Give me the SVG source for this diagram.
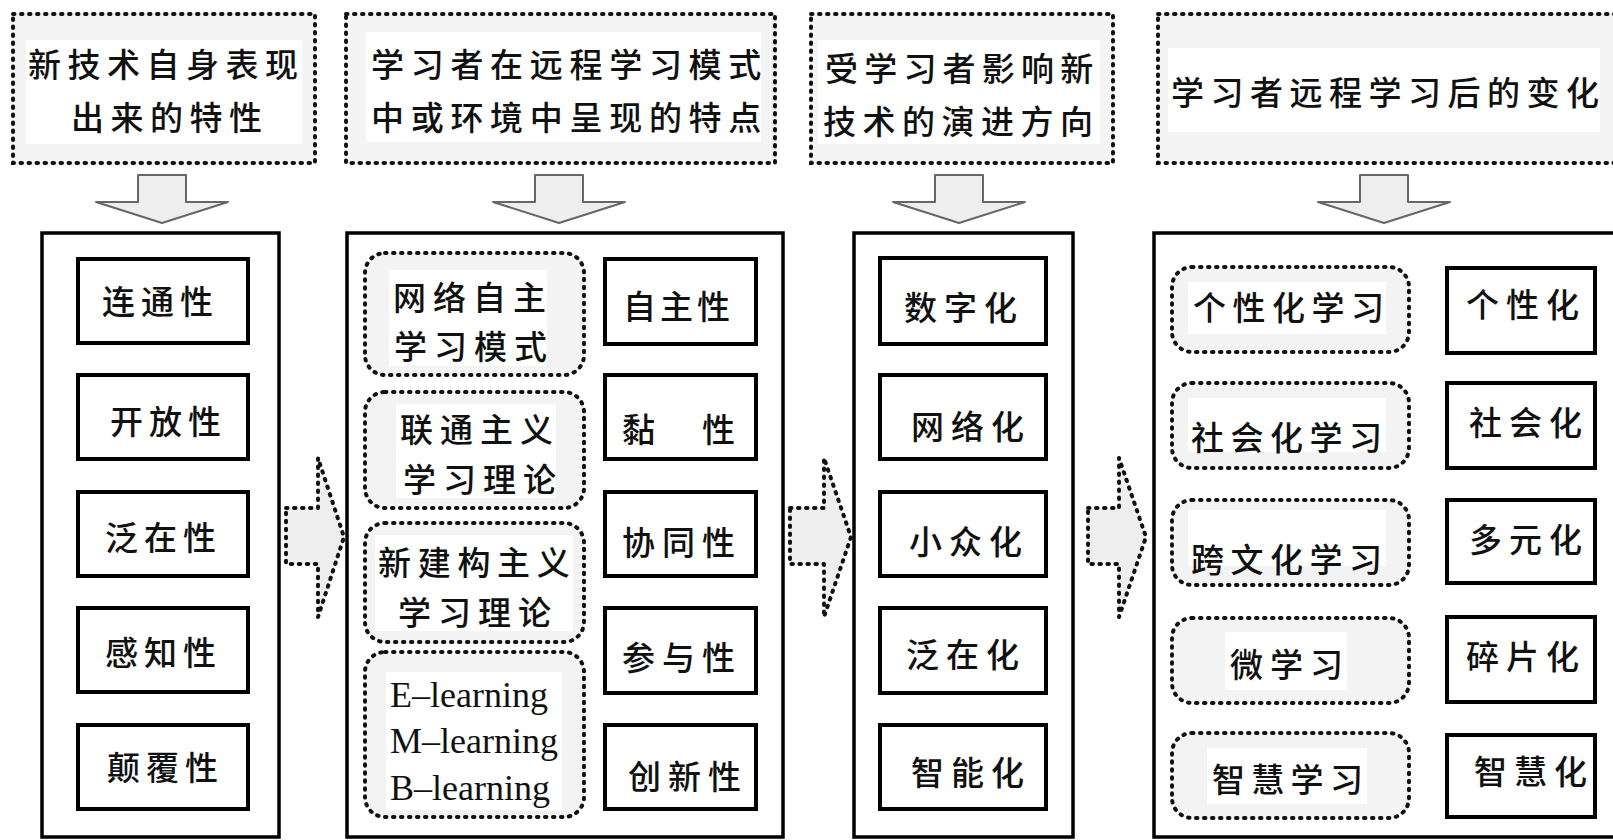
<svg xmlns="http://www.w3.org/2000/svg" width="1613" height="840" viewBox="0 0 1613 840">
<style>
.bg{fill:#fff}
.hdr{fill:#f4f4f4;stroke:#111;stroke-width:4;stroke-dasharray:1.5 6.5;stroke-linecap:round}
.dot{fill:#f3f3f3;stroke:#111;stroke-width:4;stroke-dasharray:1.5 6.5;stroke-linecap:round}
.wb{fill:#fff}
.box{fill:#fff;stroke:#000;stroke-width:4}
.cont{fill:none;stroke:#000;stroke-width:3.5}
.zh{font-family:"Noto Sans CJK SC","Noto Sans CJK TC",sans-serif;font-size:33px;font-weight:500;fill:#111}
.en{font-family:"Liberation Serif",serif;font-size:36px;fill:#111}
.darr{fill:#eeeeee;stroke:#666;stroke-width:2;stroke-linejoin:round}
.harr{fill:#eeeeee;stroke:#111;stroke-width:4;stroke-dasharray:1.5 6.5;stroke-linecap:round;stroke-linejoin:round}
</style>
<rect class="bg" x="0" y="0" width="1613" height="840"/>

<!-- header nodes -->
<g id="header1">
<rect class="hdr" x="13" y="14" width="302" height="149"/>
<rect class="wb" x="26" y="40" width="276" height="104"/>
<text class="zh" x="28" y="77" letter-spacing="6.5">新技术自身表现</text>
<text class="zh" x="71" y="130" letter-spacing="6.5">出来的特性</text>
</g>
<g id="header2">
<rect class="hdr" x="346" y="14" width="429" height="149"/>
<rect class="wb" x="366" y="32" width="395" height="110"/>
<text class="zh" x="371" y="77" letter-spacing="6.7">学习者在远程学习模式</text>
<text class="zh" x="371" y="130" letter-spacing="6.7">中或环境中呈现的特点</text>
</g>
<g id="header3">
<rect class="hdr" x="811" y="14" width="302" height="149"/>
<rect class="wb" x="818" y="40" width="282" height="104"/>
<text class="zh" x="825" y="81" letter-spacing="6.2">受学习者影响新</text>
<text class="zh" x="823" y="134" letter-spacing="6.5">技术的演进方向</text>
</g>
<g id="header4">
<rect class="hdr" x="1158" y="14" width="470" height="149"/>
<rect class="wb" x="1168" y="48" width="432" height="84"/>
<text class="zh" x="1171" y="105" letter-spacing="6.5">学习者远程学习后的变化</text>
</g>

<!-- containers -->
<g id="container1"><rect class="cont" x="42" y="233" width="237" height="604"/></g>
<g id="container2"><rect class="cont" x="347" y="233" width="436" height="604"/></g>
<g id="container3"><rect class="cont" x="854" y="233" width="219" height="604"/></g>
<g id="container4"><rect class="cont" x="1154" y="233" width="480" height="604"/></g>

<!-- column 1 -->
<g id="n-liantong"><rect class="box" x="78" y="259" width="170" height="84"/><text class="zh" x="102" y="314" letter-spacing="6">连通性</text></g>
<g id="n-kaifang"><rect class="box" x="78" y="375" width="170" height="84"/><text class="zh" x="110" y="434" letter-spacing="6">开放性</text></g>
<g id="n-fanzai"><rect class="box" x="78" y="492" width="170" height="84"/><text class="zh" x="105" y="550" letter-spacing="6">泛在性</text></g>
<g id="n-ganzhi"><rect class="box" x="78" y="608" width="170" height="84"/><text class="zh" x="105" y="665" letter-spacing="6">感知性</text></g>
<g id="n-dianfu"><rect class="box" x="78" y="725" width="170" height="84"/><text class="zh" x="107" y="780" letter-spacing="6">颠覆性</text></g>

<!-- column 2 left -->
<g id="n-wangluozizhu">
<rect class="dot" x="365" y="253" width="219" height="122" rx="20"/>
<rect class="wb" x="389" y="270" width="158" height="96"/>
<text class="zh" x="393" y="310" letter-spacing="7">网络自主</text>
<text class="zh" x="394" y="359" letter-spacing="7">学习模式</text>
</g>
<g id="n-liantongzhuyi">
<rect class="dot" x="365" y="392" width="219" height="116" rx="20"/>
<rect class="wb" x="396" y="404" width="160" height="94"/>
<text class="zh" x="400" y="442" letter-spacing="7">联通主义</text>
<text class="zh" x="403" y="492" letter-spacing="7">学习理论</text>
</g>
<g id="n-xinjiangou">
<rect class="dot" x="365" y="523" width="219" height="119" rx="20"/>
<rect class="wb" x="375" y="535" width="198" height="96"/>
<text class="zh" x="378" y="575" letter-spacing="6.7">新建构主义</text>
<text class="zh" x="398" y="625" letter-spacing="7">学习理论</text>
</g>
<g id="n-elearning">
<rect class="dot" x="365" y="652" width="219" height="165" rx="20"/>
<rect class="wb" x="386" y="672" width="176" height="138"/>
<text class="en" x="390" y="707">E–learning</text>
<text class="en" x="390" y="753">M–learning</text>
<text class="en" x="390" y="800">B–learning</text>
</g>

<!-- column 2 right -->
<g id="n-zizhu"><rect class="box" x="605" y="259" width="151" height="85"/><text class="zh" x="623" y="319" letter-spacing="4">自主性</text></g>
<g id="n-nian"><rect class="box" x="605" y="375" width="151" height="84"/><text class="zh" x="622" y="442" letter-spacing="7">黏　性</text></g>
<g id="n-xietong"><rect class="box" x="605" y="492" width="151" height="84"/><text class="zh" x="622" y="555" letter-spacing="7">协同性</text></g>
<g id="n-canyu"><rect class="box" x="605" y="608" width="151" height="85"/><text class="zh" x="622" y="670" letter-spacing="7">参与性</text></g>
<g id="n-chuangxin"><rect class="box" x="605" y="725" width="151" height="84"/><text class="zh" x="628" y="789" letter-spacing="7">创新性</text></g>

<!-- column 3 -->
<g id="n-shuzihua"><rect class="box" x="880" y="258" width="166" height="86"/><text class="zh" x="904" y="320" letter-spacing="7">数字化</text></g>
<g id="n-wangluohua"><rect class="box" x="880" y="375" width="166" height="84"/><text class="zh" x="911" y="439" letter-spacing="7">网络化</text></g>
<g id="n-xiaozhonghua"><rect class="box" x="880" y="492" width="166" height="84"/><text class="zh" x="909" y="554" letter-spacing="7">小众化</text></g>
<g id="n-fanzaihua"><rect class="box" x="880" y="608" width="166" height="85"/><text class="zh" x="906" y="667" letter-spacing="7">泛在化</text></g>
<g id="n-zhinenghua"><rect class="box" x="880" y="725" width="166" height="84"/><text class="zh" x="911" y="785" letter-spacing="7">智能化</text></g>

<!-- column 4 left -->
<g id="n-gexinghuaxuexi">
<rect class="dot" x="1172" y="267" width="237" height="85" rx="20"/>
<rect class="wb" x="1188" y="282" width="198" height="52"/>
<text class="zh" x="1193" y="320" letter-spacing="6.5">个性化学习</text>
</g>
<g id="n-shehuihuaxuexi">
<rect class="dot" x="1172" y="383" width="237" height="85" rx="20"/>
<rect class="wb" x="1188" y="398" width="198" height="54"/>
<text class="zh" x="1191" y="450" letter-spacing="6.5">社会化学习</text>
</g>
<g id="n-kuawenhua">
<rect class="dot" x="1172" y="500" width="237" height="85" rx="20"/>
<rect class="wb" x="1188" y="510" width="198" height="56"/>
<text class="zh" x="1191" y="572" letter-spacing="6.5">跨文化学习</text>
</g>
<g id="n-weixuexi">
<rect class="dot" x="1172" y="618" width="237" height="85" rx="20"/>
<rect class="wb" x="1225" y="632" width="122" height="58"/>
<text class="zh" x="1230" y="677" letter-spacing="7">微学习</text>
</g>
<g id="n-zhihuixuexi">
<rect class="dot" x="1172" y="733" width="237" height="85" rx="20"/>
<rect class="wb" x="1207" y="748" width="160" height="56"/>
<text class="zh" x="1212" y="792" letter-spacing="6.3">智慧学习</text>
</g>

<!-- column 4 right -->
<g id="n-gexinghua"><rect class="box" x="1447" y="268" width="148" height="85"/><text class="zh" x="1466" y="317" letter-spacing="7">个性化</text></g>
<g id="n-shehuihua"><rect class="box" x="1447" y="383" width="148" height="85"/><text class="zh" x="1469" y="435" letter-spacing="7">社会化</text></g>
<g id="n-duoyuanhua"><rect class="box" x="1447" y="500" width="148" height="83"/><text class="zh" x="1469" y="552" letter-spacing="7">多元化</text></g>
<g id="n-suipianhua"><rect class="box" x="1447" y="617" width="148" height="85"/><text class="zh" x="1466" y="669" letter-spacing="7">碎片化</text></g>
<g id="n-zhihuihua"><rect class="box" x="1447" y="735" width="148" height="82"/><text class="zh" x="1474" y="784" letter-spacing="7">智慧化</text></g>

<!-- connectors -->
<g id="connectors">
<path class="darr" d="M138,175 H186 V202 H228 L162,223 L96,202 H138 Z"/>
<path class="darr" d="M535,175 H583 V202 H625 L559,223 L493,202 H535 Z"/>
<path class="darr" d="M935,175 H983 V202 H1025 L959,223 L893,202 H935 Z"/>
<path class="darr" d="M1360,175 H1408 V202 H1450 L1384,223 L1318,202 H1360 Z"/>
<path class="harr" d="M286,508 H318 V458 L344,537 L318,617 V564 H286 Z"/>
<path class="harr" d="M790,508 H824 V458 L851,537 L824,617 V564 H790 Z"/>
<path class="harr" d="M1088,508 H1119 V458 L1146,537 L1119,617 V564 H1088 Z"/>
</g>
</svg>
